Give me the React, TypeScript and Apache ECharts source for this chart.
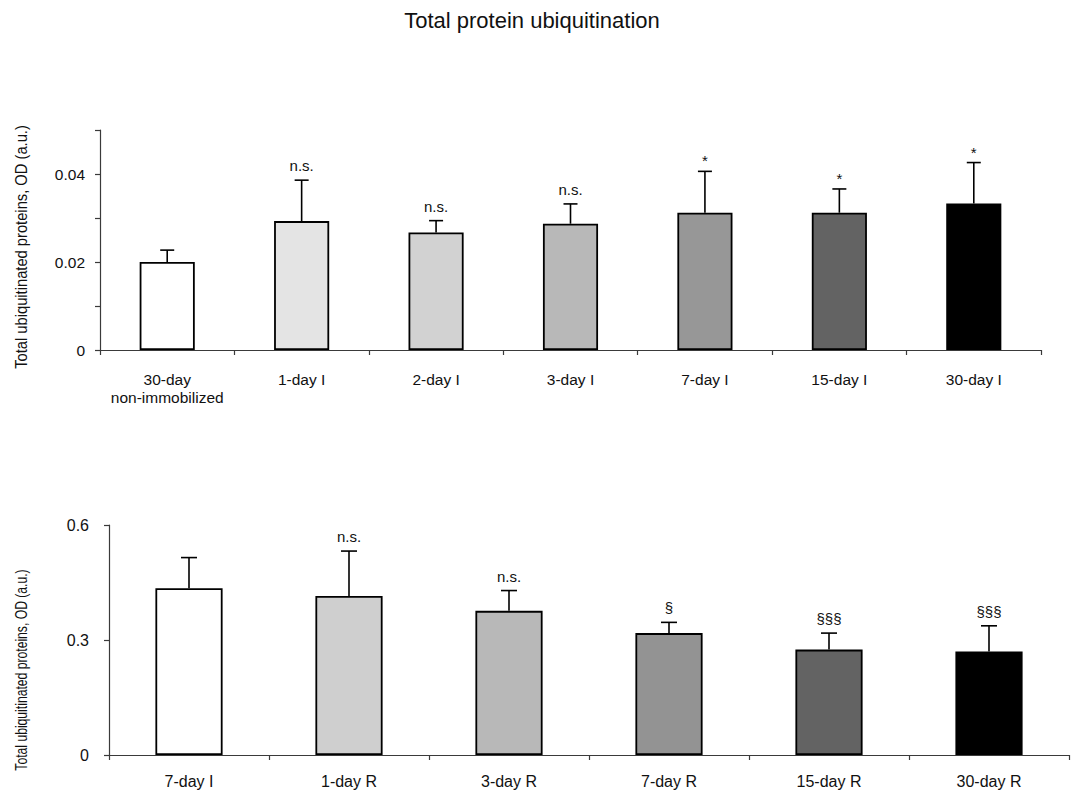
import React, { useEffect, useRef } from "react";
import * as echarts from "echarts";

// Immobilization time course (upper panel)
const immCategories = ["30-day\nnon-immobilized", "1-day I", "2-day I", "3-day I", "7-day I", "15-day I", "30-day I"];
const immMeans = [0.0200, 0.0293, 0.0267, 0.0287, 0.0312, 0.0312, 0.0333];
const immErrors = [0.0027, 0.0093, 0.0027, 0.0045, 0.0094, 0.0054, 0.0093];
const immMarks = ["", "n.s.", "n.s.", "n.s.", "*", "*", "*"];
const immColors = ["#ffffff", "#e4e4e4", "#d2d2d2", "#b8b8b8", "#979797", "#636363", "#000000"];

// Recovery time course (lower panel)
const recCategories = ["7-day I", "1-day R", "3-day R", "7-day R", "15-day R", "30-day R"];
const recMeans = [0.435, 0.415, 0.376, 0.318, 0.275, 0.270];
const recErrors = [0.080, 0.117, 0.053, 0.028, 0.043, 0.067];
const recMarks = ["", "n.s.", "n.s.", "§", "§§§", "§§§"];
const recColors = ["#ffffff", "#cfcfcf", "#b8b8b8", "#939393", "#636363", "#000000"];

const FONT = "Liberation Sans, Arial, Helvetica, sans-serif";
const AXIS_COLOR = "#3a3a3a";
const TEXT_COLOR = "#111111";
const Y_NAME = "Total ubiquitinated proteins, OD (a.u.)";

function errorRenderer(means: number[], errors: number[], marks: string[], capHalf: number, markFont: number) {
  return (params: any, api: any) => {
    const i = params.dataIndex;
    const base = api.coord([api.value(0), means[i]]);
    const top = api.coord([api.value(0), means[i] + errors[i]]);
    const lineStyle = { stroke: "#000", lineWidth: 1.6 };
    const mark = marks[i];
    const isStar = mark === "*";
    return {
      type: "group",
      children: [
        { type: "line", shape: { x1: base[0], y1: base[1], x2: top[0], y2: top[1] }, style: lineStyle },
        { type: "line", shape: { x1: top[0] - capHalf, y1: top[1], x2: top[0] + capHalf, y2: top[1] }, style: lineStyle },
        {
          type: "text",
          x: top[0],
          y: top[1] - (isStar ? 3 : 7),
          style: {
            text: mark,
            fill: TEXT_COLOR,
            font: `${markFont}px ${FONT}`,
            textAlign: "center",
            textVerticalAlign: "bottom",
          },
        },
      ],
    };
  };
}

export default function App() {
  const ref = useRef<HTMLDivElement>(null);

  useEffect(() => {
    document.body.style.margin = "0";
    if (!ref.current) return;
    const chart = echarts.init(ref.current, undefined, { renderer: "svg" });

    const axisLine = { show: true, lineStyle: { color: AXIS_COLOR, width: 1.2 } };
    const axisTick = { show: true, inside: false, length: 5, lineStyle: { color: AXIS_COLOR, width: 1.2 } };
    const tickLabel = { color: TEXT_COLOR, fontFamily: FONT, fontSize: 15.5 };

    chart.setOption({
      animation: false,
      backgroundColor: "#ffffff",
      title: {
        text: "Total protein ubiquitination",
        left: 527,
        textAlign: "center",
        top: 4,
        textStyle: { fontFamily: FONT, fontSize: 22, fontWeight: "normal", color: TEXT_COLOR },
      },
      grid: [
        { left: 100, right: 35, top: 130, height: 220 },
        { left: 109, right: 7, top: 525, height: 230 },
      ],
      xAxis: [
        {
          type: "category",
          gridIndex: 0,
          data: immCategories,
          axisLine,
          axisTick: { ...axisTick, alignWithLabel: false },
          axisLabel: { ...tickLabel, margin: 20, lineHeight: 18, interval: 0 },
          splitLine: { show: false },
        },
        {
          type: "category",
          gridIndex: 1,
          data: recCategories,
          axisLine,
          axisTick: { ...axisTick, alignWithLabel: false },
          axisLabel: { ...tickLabel, fontSize: 16, margin: 18, interval: 0 },
          splitLine: { show: false },
        },
      ],
      yAxis: [
        {
          type: "value",
          gridIndex: 0,
          min: 0,
          max: 0.05,
          interval: 0.01,
          axisLine,
          axisTick,
          splitLine: { show: false },
          axisLabel: {
            ...tickLabel,
            margin: 15,
            formatter: (v: number) => {
              const k = Math.round(v * 100);
              if (k % 2 !== 0) return "";
              return k === 0 ? "0" : v.toFixed(2);
            },
          },
        },
        {
          type: "value",
          gridIndex: 1,
          min: 0,
          max: 0.6,
          interval: 0.3,
          axisLine,
          axisTick,
          splitLine: { show: false },
          axisLabel: {
            ...tickLabel,
            fontSize: 16,
            margin: 20,
            formatter: (v: number) => (v === 0 ? "0" : v.toFixed(1)),
          },
        },
      ],
      graphic: [
        {
          type: "text",
          x: 21,
          y: 247,
          rotation: Math.PI / 2,
          scaleX: 0.92,
          style: {
            text: Y_NAME,
            font: `16px ${FONT}`,
            fill: TEXT_COLOR,
            textAlign: "center",
            textVerticalAlign: "middle",
          },
        },
        {
          type: "text",
          x: 21,
          y: 670,
          rotation: Math.PI / 2,
          scaleX: 0.76,
          style: {
            text: Y_NAME,
            font: `16px ${FONT}`,
            fill: TEXT_COLOR,
            textAlign: "center",
            textVerticalAlign: "middle",
          },
        },
      ],
      series: [
        {
          type: "bar",
          xAxisIndex: 0,
          yAxisIndex: 0,
          barWidth: "41%",
          data: immMeans.map((v, i) => ({
            value: v,
            itemStyle: { color: immColors[i], borderColor: "#000", borderWidth: 1.8 },
          })),
          z: 2,
        },
        {
          type: "custom",
          xAxisIndex: 0,
          yAxisIndex: 0,
          data: immMeans.map((v, i) => [i, v + immErrors[i]]),
          encode: { x: 0, y: 1 },
          renderItem: errorRenderer(immMeans, immErrors, immMarks, 7, 15),
          clip: false,
          z: 3,
        },
        {
          type: "bar",
          xAxisIndex: 1,
          yAxisIndex: 1,
          barWidth: "42%",
          data: recMeans.map((v, i) => ({
            value: v,
            itemStyle: { color: recColors[i], borderColor: "#000", borderWidth: 1.8 },
          })),
          z: 2,
        },
        {
          type: "custom",
          xAxisIndex: 1,
          yAxisIndex: 1,
          data: recMeans.map((v, i) => [i, v + recErrors[i]]),
          encode: { x: 0, y: 1 },
          renderItem: errorRenderer(recMeans, recErrors, recMarks, 8, 15),
          clip: false,
          z: 3,
        },
      ],
    });

    return () => chart.dispose();
  }, []);

  return <div ref={ref} style={{ width: 1076, height: 792 }} />;
}
